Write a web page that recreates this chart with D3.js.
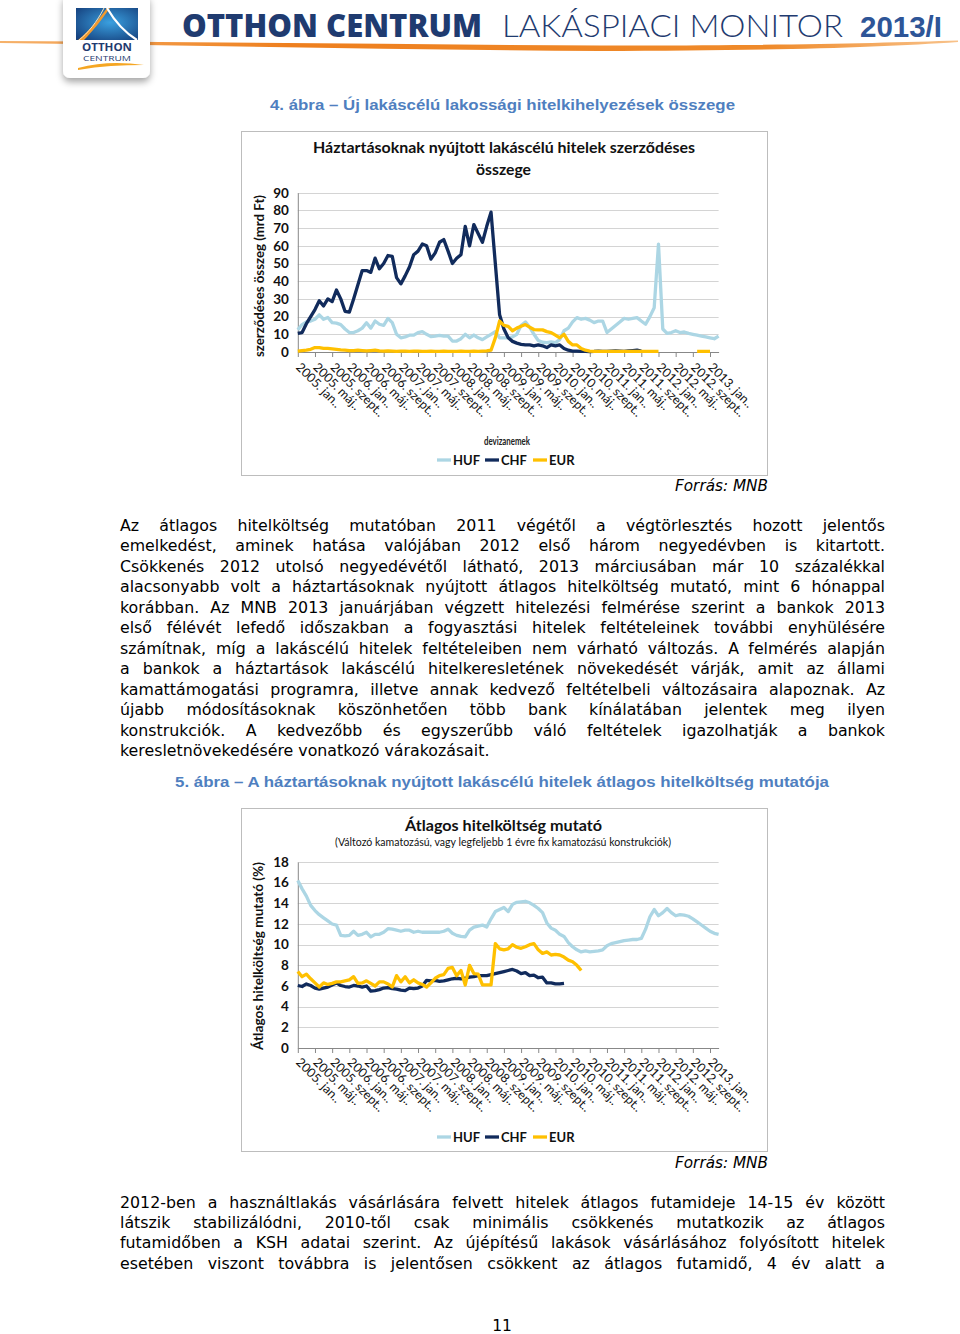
<!DOCTYPE html>
<html><head><meta charset="utf-8">
<script src="https://cdn.jsdelivr.net/npm/d3@7"></script>
<style>body{margin:0;background:#fff}svg{display:block}</style>
</head><body>
<script>
// ---------- DATA ----------
const tickLabels = ["2005. jan..","2005. máj..","2005. szept..","2006. jan..","2006. máj..","2006. szept..",
 "2007. jan..","2007. máj..","2007. szept..","2008. jan..","2008. máj..","2008. szept..",
 "2009. jan..","2009. máj..","2009. szept..","2010. jan..","2010. máj..","2010. szept..",
 "2011. jan..","2011. máj..","2011. szept..","2012. jan..","2012. máj..","2012. szept..","2013. jan.."];
const seriesNames = ["HUF","CHF","EUR"];
const yTicks1 = [0,10,20,30,40,50,60,70,80,90];
const yTicks2 = [0,2,4,6,8,10,12,14,16,18];

// Chart 1: contracted amount (bn HUF), monthly 2005 Jan - 2013 Mar
const huf1 = [12.5,15.5,17,17.5,18.5,21,18.5,19.5,16.6,16.3, 15.5,13,11,11,12,13.5,16.5,13.5,17.5,15.7,
 15,19,16.6,10,8,8.5,9.5,9.5,11,11.5, 10,8.7,9,9.4,9,9,6.2,6.2,7.5,10,
 8,9.6,8,7,8.5,10,11.5,8,8,8, 8.5,10,15,17,14,10,6.5,5.5,5.3,5.7,
 5.3,7,12,13.5,17,19.4,18.5,19,18,16.6, 17.5,17.5,11,13,15,17,19,18.5,19,19.4,
 17.5,15.7,20,25,61,13,10.5,11,12,11, 11.3,10.5,10,9.5,9,8.5,8,7.5,9];
const chf1 = [10.5,11,16,20,24,29,26,30,28.5,35, 30,23,22.5,30,38,46,46,45,53,47,
 50,54.5,54,42,38.5,43,48,55,57,61, 60,52.5,56,62,63.5,57,50,53,55,71,
 60,72,67,62,71,79,50,21,13,8, 6,5,4.3,4,4,3.5,4,3.5,2.5,4,
 3.5,4,2,1,0.5, 0.5,0.3,0.3,0.2,0.3,0.5,0.4,0.3,0.5,0.6,0.5,0.3,0.6,0.8,1,0.5,
 null,null,null,null,null,null,null,null,null,null,null,null,null,null,null,null,null,null];
const eur1 = [0.5,0.8,1,1.5,2.5,2.5,2,2,1.8,1.5, 1.2,1,0.8,0.8,1,0.8,0.6,0.8,1,0.6,
 0.5,0.6,0.5,0.4,0.5,0.5,0.4,0.5,0.5,0.4, 0.4,0.5,0.4,0.4,0.5,0.4,0.4,0.4,0.5,0.4,
 0.4,0.5,0.4,0.5,0.6,1,8,17.5,15,14.5, 12,13.5,14.5,15.5,14,12.7,12.5,12.5,11.5,11,
 9.5,8,10,6,4,4,2,1,0.5,0.4, 0.4,0.3,0.3,0.4,0.4,0.3,0.3,0.4,0.3,0.4,
 0.4,0.3,0.3,0.4,0.4, null,null,null,null,null,null,null,null, 0.4,0.4,0.4,0.4, null,null];

// Chart 2: average cost of credit indicator (%)
const huf2 = [16.2,15.4,14.7,13.8,13.3,12.9,12.6,12.3,12,11.9, 10.9,10.85,10.9,11.3,10.9,11,11.2,10.75,11,11,
 11.2,11.55,11.5,11.4,11.3,11.4,11.4,11.2,11.3,11.2, 11.2,11.2,11.2,11.2,11.3,11.5,11.1,10.9,10.8,10.75,
 11.4,11.7,11.8,11.9,11.7,12.5,13.2,13.4,13.6,13.2, 13.9,14.1,14.15,14.2,14.05,13.8,13.5,13.1,12.1,11.6,
 11.4,11,10.8,10.2,9.8,9.5,9.3,9.4,9.3,9.35, 9.4,9.5,9.9,10.1,10.2,10.3,10.4,10.45,10.5,10.5,
 10.6,11.5,12.7,13.4,12.8,13.1,13.5,13.1,12.8,12.9, 12.85,12.75,12.5,12.2,11.9,11.6,11.3,11.1,11];
const chf2 = [6.05,5.95,6.2,6.05,5.8,5.7,5.8,5.9,6.1,6.3, 6.05,5.95,5.9,6.05,6.0,5.9,6.0,5.5,5.55,5.65,
 5.8,5.85,5.75,5.7,5.6,5.55,5.8,5.75,5.8,6.0, 6.55,6.5,6.55,6.45,6.5,6.6,6.7,6.75,6.7,6.75,
 6.85,6.9,7.0,7.0,7.0,7.1,7.2,7.3,7.4,7.5, 7.6,7.45,7.2,7.3,7.0,7.05,6.8,6.85,6.3,6.3,
 6.2,6.2,6.25].concat(new Array(36).fill(null));
const eur2 = [7.4,6.9,7.15,6.7,6.3,5.9,6.3,6.15,6.25,6.4, 6.4,6.5,6.6,6.9,6.25,6.3,6.5,6.25,6.0,6.4,
 6.4,6.2,5.9,7.0,6.4,6.9,6.3,6.6,6.3,6.15, 5.9,6.3,6.75,7.0,7.1,7.7,7.8,7.0,7.5,6.1,
 8.0,7.2,7.15,6.1,6.1,6.1,10.1,9.6,9.5,9.6, 10.0,9.75,9.65,9.8,10.0,10.1,9.5,9.15,9.3,9.0,
 9.05,9.0,8.8,8.5,8.35,8.0,7.5].concat(new Array(32).fill(null));

const para1 = [
 "Az átlagos hitelköltség mutatóban 2011 végétől a végtörlesztés hozott jelentős",
 "emelkedést, aminek hatása valójában 2012 első három negyedévben is kitartott.",
 "Csökkenés 2012 utolsó negyedévétől látható, 2013 márciusában már 10 százalékkal",
 "alacsonyabb volt a háztartásoknak nyújtott átlagos hitelköltség mutató, mint 6 hónappal",
 "korábban. Az MNB 2013 januárjában végzett hitelezési felmérése szerint a bankok 2013",
 "első félévét lefedő időszakban a fogyasztási hitelek feltételeinek további enyhülésére",
 "számítnak, míg a lakáscélú hitelek feltételeiben nem várható változás. A felmérés alapján",
 "a bankok a háztartások lakáscélú hitelkeresletének növekedését várják, amit az állami",
 "kamattámogatási programra, illetve annak kedvező feltételbeli változásaira alapoznak. Az",
 "újabb módosításoknak köszönhetően több bank kínálatában jelentek meg ilyen",
 "konstrukciók. A kedvezőbb és egyszerűbb váló feltételek igazolhatják a bankok",
 "keresletnövekedésére vonatkozó várakozásait."];
const para2 = [
 "2012-ben a használtlakás vásárlására felvett hitelek átlagos futamideje 14-15 év között",
 "látszik stabilizálódni, 2010-től csak minimális csökkenés mutatkozik az átlagos",
 "futamidőben a KSH adatai szerint. Az újépítésű lakások vásárlásához folyósított hitelek",
 "esetében viszont továbbra is jelentősen csökkent az átlagos futamidő, 4 év alatt a"];

// ---------- STYLE ----------
const colors = {HUF:"#acd6e4", CHF:"#112b5c", EUR:"#ffc000"};
const navy = "#1f3b70";
const capBlue = "#4f7fc0";

const svg = d3.select("body").append("svg").attr("width",960).attr("height",1334)
  .style("background","#fff");
const defs = svg.append("defs");
const og = defs.append("linearGradient").attr("id","orng").attr("x1","0").attr("x2","1");
og.append("stop").attr("offset","0").attr("stop-color","#f6b26b");
og.append("stop").attr("offset","0.3").attr("stop-color","#ee7f1e");
og.append("stop").attr("offset","0.8").attr("stop-color","#ef8a2a");
og.append("stop").attr("offset","1").attr("stop-color","#f8c28a");
const bg = defs.append("radialGradient").attr("id","lgblue").attr("cx","0.55").attr("cy","0.45").attr("r","0.7");
bg.append("stop").attr("offset","0").attr("stop-color","#3aa0e0");
bg.append("stop").attr("offset","1").attr("stop-color","#16427f");
const sh = defs.append("filter").attr("id","shadow").attr("x","-30%").attr("y","-30%").attr("width","160%").attr("height","160%");
sh.append("feDropShadow").attr("dx",0).attr("dy",4).attr("stdDeviation",3.5).attr("flood-color","#000").attr("flood-opacity",0.35);

// ---------- HEADER ----------
svg.append("path")
  .attr("d","M0,41 C200,42 400,44.5 600,45.5 C760,46 880,43 958,40.5 L958,42 C880,47.5 760,51 600,51 C400,50 200,45.5 0,43 Z")
  .attr("fill","url(#orng)");
svg.append("rect").attr("x",63).attr("y",-6).attr("width",87).attr("height",84).attr("rx",7)
  .attr("fill","#fff").attr("filter","url(#shadow)");
svg.append("rect").attr("x",76).attr("y",8).attr("width",62).attr("height",32).attr("fill","url(#lgblue)");
svg.append("path").attr("d","M78,40 C90,30 100,18 107,8 L110,8 C100,22 92,32 84,40 Z").attr("fill","#f29a2e");
svg.append("path").attr("d","M107,8 C114,20 124,32 137,40").attr("fill","none").attr("stroke","#fff").attr("stroke-width",2.2);
svg.append("path").attr("d","M104,8 C97,22 88,33 79,40").attr("fill","none").attr("stroke","#fde3b8").attr("stroke-width",1);
svg.append("text").attr("x",107).attr("y",51).attr("text-anchor","middle").attr("font-family","Open Sans")
  .attr("font-weight",700).attr("font-size",10.5).attr("fill",navy).attr("textLength",50).attr("lengthAdjust","spacingAndGlyphs").text("OTTHON");
svg.append("text").attr("x",107).attr("y",61).attr("text-anchor","middle").attr("font-family","Open Sans")
  .attr("font-size",8).attr("fill",navy).attr("textLength",48).attr("lengthAdjust","spacingAndGlyphs").text("CENTRUM");
svg.append("path").attr("d","M78,68 C100,62 122,62 144,65 C122,65 100,66 78,70 Z").attr("fill","#f5a623");

svg.append("text").attr("x",182).attr("y",37).attr("font-family","Open Sans").attr("font-weight",800)
  .attr("font-size",31).attr("fill",navy).attr("textLength",300).attr("lengthAdjust","spacingAndGlyphs").text("OTTHON  CENTRUM");
svg.append("text").attr("x",502).attr("y",37).attr("font-family","Lato").attr("font-weight",300)
  .attr("font-size",31).attr("fill",navy).attr("textLength",341).attr("lengthAdjust","spacingAndGlyphs").text("LAKÁSPIACI MONITOR");
svg.append("text").attr("x",860).attr("y",37).attr("font-family","Liberation Sans").attr("font-weight",700)
  .attr("font-size",30).attr("fill","#2e5597").attr("textLength",82).attr("lengthAdjust","spacingAndGlyphs").text("2013/I");

// ---------- helpers ----------
function caption(txt, cx, y, w) {
  svg.append("text").attr("x",cx).attr("y",y).attr("text-anchor","middle")
    .attr("font-family","Liberation Sans").attr("font-weight",700).attr("font-size",14.7)
    .attr("fill",capBlue).attr("textLength",w).attr("lengthAdjust","spacingAndGlyphs").text(txt);
}
function source(y) {
  svg.append("text").attr("x",768).attr("y",y).attr("text-anchor","end")
    .attr("font-family","DejaVu Sans").attr("font-style","italic").attr("font-size",15)
    .attr("fill","#000").attr("textLength",93).attr("lengthAdjust","spacingAndGlyphs").text("Forrás: MNB");
}
function textBlock(lines, x, y0, lh, W, lastJust) {
  lines.forEach((ln, k) => {
    const y = y0 + k*lh;
    const just = k < lines.length-1 || lastJust;
    const t = svg.append("text").attr("x",x).attr("y",y).attr("font-family","DejaVu Sans")
      .attr("font-size",15.8).attr("fill","#000");
    if (!just) { t.text(ln); return; }
    const words = ln.split(" ");
    const spans = t.selectAll("tspan").data(words).join("tspan").text(d=>d);
    const widths = spans.nodes().map(n=>n.getComputedTextLength());
    const gap = (W - d3.sum(widths))/(words.length-1);
    if (gap < 3) {
      t.selectAll("tspan").remove();
      t.text(ln).attr("textLength",W).attr("lengthAdjust","spacingAndGlyphs");
      return;
    }
    let cx = x;
    spans.each(function(d,i){ d3.select(this).attr("x",cx); cx += widths[i] + gap; });
  });
}

function drawChart(cfg) {
  const g = svg.append("g");
  g.append("rect").attr("x",cfg.box[0]+0.5).attr("y",cfg.box[1]+0.5)
    .attr("width",cfg.box[2]-cfg.box[0]).attr("height",cfg.box[3]-cfg.box[1])
    .attr("fill","#fff").attr("stroke","#bdbdbd");
  const n = cfg.series[0].values.length;
  const x = d3.scaleLinear().domain([0,n-1]).range([cfg.x0,cfg.x1]);
  const y = d3.scaleLinear().domain([0,cfg.yMax]).range([cfg.yBot,cfg.yTop]);

  g.append("g").selectAll("line").data(cfg.yTicks.filter(v=>v>0)).join("line")
    .attr("x1",cfg.x0).attr("x2",cfg.x1).attr("y1",d=>Math.round(y(d))+0.5).attr("y2",d=>Math.round(y(d))+0.5)
    .attr("stroke","#d4d4d4").attr("stroke-width",1.2);

  const xa = d3.axisBottom(x).tickValues(d3.range(0,n,4)).tickFormat(i=>tickLabels[i/4])
    .tickSize(5).tickSizeOuter(0);
  const gx = g.append("g").attr("transform",`translate(0,${cfg.yBot})`).call(xa)
    .attr("font-family","Lato").attr("font-size",12.5);
  gx.select(".domain").attr("stroke","#888");
  gx.selectAll(".tick line").attr("stroke","#888");
  gx.selectAll(".tick text").attr("y",null).attr("dy",null).attr("fill","#111")
    .attr("transform",`translate(-3,${cfg.labDy}) rotate(45)`).attr("text-anchor","start");

  const ya = d3.axisLeft(y).tickValues(cfg.yTicks).tickSize(0).tickPadding(9).tickSizeOuter(0);
  const gy = g.append("g").attr("transform",`translate(${cfg.x0},0)`).call(ya)
    .attr("font-family","Lato").attr("font-size",13.5).attr("font-weight",700);
  gy.select(".domain").attr("stroke","#888");
  gy.selectAll(".tick text").attr("fill","#111");

  g.append("text").attr("transform",`translate(${cfg.ylabX},${cfg.ylabY}) rotate(-90)`)
    .attr("text-anchor","middle").attr("font-family","Lato").attr("font-weight",700).attr("font-size",13)
    .attr("fill","#111").attr("textLength",cfg.ylabW).attr("lengthAdjust","spacingAndGlyphs").text(cfg.ylab);

  const line = d3.line().defined(d=>d!=null).x((d,i)=>x(i)).y(d=>y(d));
  g.append("g").selectAll("path").data(cfg.series).join("path")
    .attr("d",s=>line(s.values)).attr("fill","none").attr("stroke",s=>colors[s.name])
    .attr("stroke-width",3.3).attr("stroke-linejoin","round");

  cfg.titles.forEach(t => {
    g.append("text").attr("x",t.cx).attr("y",t.y).attr("text-anchor","middle")
      .attr("font-family","Lato").attr("font-weight",t.bold?700:400).attr("font-size",t.size)
      .attr("fill","#111").attr("textLength",t.w).attr("lengthAdjust","spacingAndGlyphs").text(t.text);
  });

  const lg = g.append("g");
  const lx = [437,485,533];
  seriesNames.forEach((nm,i) => {
    lg.append("line").attr("x1",lx[i]).attr("x2",lx[i]+14).attr("y1",cfg.legY).attr("y2",cfg.legY)
      .attr("stroke",colors[nm]).attr("stroke-width",3.3);
    lg.append("text").attr("x",lx[i]+16).attr("y",cfg.legY+4.5).attr("font-family","Lato")
      .attr("font-weight",700).attr("font-size",13).attr("fill","#111").text(nm);
  });
  if (cfg.legTitle) {
    lg.append("text").attr("x",507).attr("y",cfg.legY-15.5).attr("text-anchor","middle").attr("font-family","Lato")
      .attr("font-size",10.5).attr("font-weight",700).attr("fill","#222")
      .attr("textLength",46).attr("lengthAdjust","spacingAndGlyphs").text(cfg.legTitle);
  }
}

// ---------- PAGE ----------
caption("4. ábra – Új lakáscélú lakossági hitelkihelyezések összege", 502.5, 109.5, 465);

drawChart({
  box:[241,131,767,475], x0:297.8, x1:718.6, yTop:192.7, yBot:352, yMax:90, yTicks:yTicks1, labDy:16,
  series:[{name:"HUF",values:huf1},{name:"CHF",values:chf1},{name:"EUR",values:eur1}],
  ylab:"szerződéses összeg (mrd Ft)", ylabX:264, ylabY:276, ylabW:162,
  titles:[{text:"Háztartásoknak nyújtott lakáscélú hitelek szerződéses",cx:504,y:153,w:382,size:15,bold:true},
          {text:"összege",cx:503.5,y:175,w:55,size:15,bold:true}],
  legY:460, legTitle:"devizanemek"
});
source(490.5);

textBlock(para1, 120, 530.5, 20.5, 765, false);

caption("5. ábra – A háztartásoknak nyújtott lakáscélú hitelek átlagos hitelköltség mutatója", 502, 786.5, 654);

drawChart({
  box:[241,808,767,1151], x0:297.8, x1:718.6, yTop:862, yBot:1048, yMax:18, yTicks:yTicks2, labDy:15,
  series:[{name:"HUF",values:huf2},{name:"CHF",values:chf2},{name:"EUR",values:eur2}],
  ylab:"Átlagos hitelköltség mutató (%)", ylabX:263, ylabY:956, ylabW:188,
  titles:[{text:"Átlagos hitelköltség mutató",cx:503.5,y:831,w:197,size:16,bold:true},
          {text:"(Változó kamatozású, vagy legfeljebb 1 évre fix kamatozású konstrukciók)",cx:503,y:846,w:336,size:11,bold:false}],
  legY:1137
});
source(1167.5);

textBlock(para2, 120, 1207.5, 20.4, 765, true);

svg.append("text").attr("x",502).attr("y",1331).attr("text-anchor","middle").attr("font-family","DejaVu Sans")
  .attr("font-size",15.5).attr("fill","#000").text("11");
</script>
</body></html>
